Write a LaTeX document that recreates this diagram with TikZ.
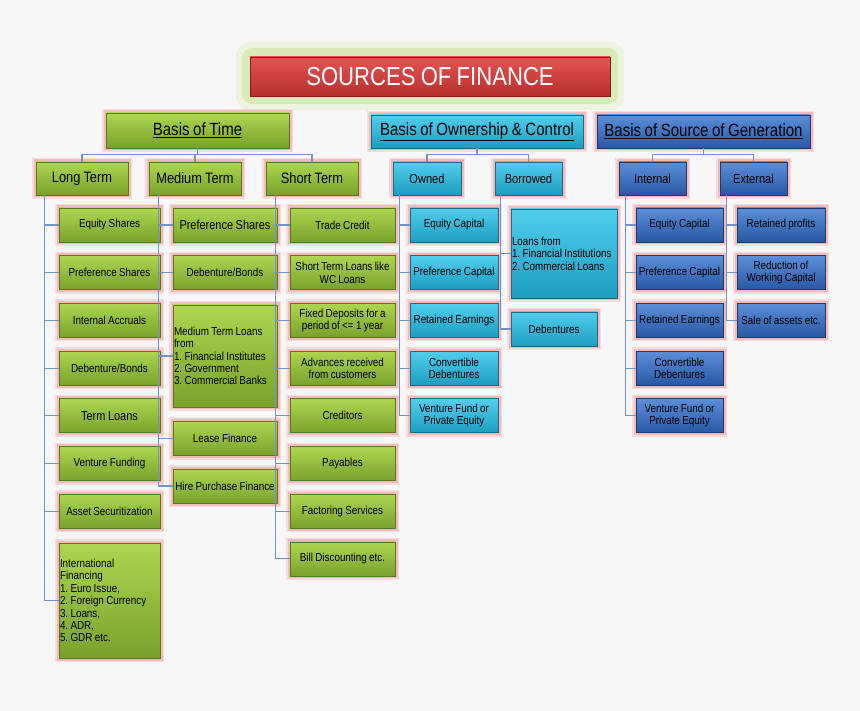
\documentclass[tikz,border=0pt]{standalone}
\usepackage{fontspec}
\setmainfont{Liberation Sans}[FakeStretch=0.85,WordSpace=0.85]

\definecolor{bgcol}{RGB}{247,247,247}
\definecolor{glowpink}{RGB}{245,186,186}
\definecolor{glowgreen}{RGB}{218,233,184}
\definecolor{glowouter}{RGB}{236,243,222}
\definecolor{greentop}{RGB}{174,214,80}
\definecolor{greenbot}{RGB}{120,162,44}
\definecolor{greenline}{RGB}{88,122,30}
\definecolor{cyantop}{RGB}{82,206,236}
\definecolor{cyanbot}{RGB}{28,158,192}
\definecolor{cyanline}{RGB}{24,108,138}
\definecolor{bluetop}{RGB}{92,142,216}
\definecolor{bluebot}{RGB}{40,88,165}
\definecolor{blueline}{RGB}{28,58,112}
\definecolor{redtop}{RGB}{228,84,82}
\definecolor{redbot}{RGB}{184,46,46}
\definecolor{redline}{RGB}{128,30,30}
\definecolor{linkcol}{RGB}{116,146,198}

\begin{document}
\frenchspacing
\hyphenpenalty=10000
\begin{tikzpicture}[x=1pt,y=-1pt,node distance=47.7pt,
    core/.style={rectangle,inner sep=1pt,align=center,line width=0.7pt,
                 minimum height=34pt,font=\fontsize{11.6}{12.4}\selectfont},
    box/.style={core,preaction={draw=glowpink!45!bgcol,line width=8pt},
                preaction={draw=glowpink,line width=5pt}},
    gbox/.style={box,draw=greenline,top color=greentop,bottom color=greenbot},
    cbox/.style={box,draw=cyanline,top color=cyantop,bottom color=cyanbot},
    bbox/.style={box,draw=blueline,top color=bluetop,bottom color=bluebot},
    head/.style={font=\fontsize{17.7}{20}\selectfont},
    sub/.style={font=\fontsize{15.1}{17}\selectfont,minimum height=33pt},
    subs/.style={font=\fontsize{13}{15}\selectfont,minimum height=33pt},
    big/.style={font=\fontsize{12.9}{14}\selectfont},
    list/.style={align=flush left,inner xsep=1pt},
    link/.style={color=linkcol,line width=1.1pt},
    elbow/.style={to path={|- (\tikztotarget)}},
    fork/.style={to path={-- ++(0,6) -| (\tikztotarget)}}]

        \fill[bgcol] (0,0) rectangle (860,711);
        \useasboundingbox (0,0) rectangle (860,711);

        % title
        \fill[glowouter,rounded corners=14pt] (236,42) rectangle (624,110);
        \fill[glowgreen,rounded corners=10pt] (242,48) rectangle (618,104);
        \node[core,draw=redline,top color=redtop,bottom color=redbot,text=white,
              minimum width=360pt,minimum height=39pt,
              font=\fontsize{26}{30}\selectfont] (SRC) at (430,76.5) {SOURCES OF FINANCE};

        % headers
        \node[gbox,head,minimum width=183pt,minimum height=35pt] (TIME) at (197.5,130.5) {\underline{Basis of Time}};
        \node[cbox,head,minimum width=212pt,minimum height=33pt] (OWN)  at (477,131.5)   {\underline{Basis of Ownership \& Control}};
        \node[bbox,head,minimum width=213pt,minimum height=33pt] (GEN)  at (703.5,131.5) {\underline{Basis of Source of Generation}};

        \node[gbox,sub,minimum width=92pt]  (LT) at (82,178.5)    {Long Term};
        \node[gbox,sub,minimum width=92pt]  (MT) at (195,178.5)   {Medium Term};
        \node[gbox,sub,minimum width=92pt]  (ST) at (312,178.5)   {Short Term};
        \node[cbox,subs,minimum width=68pt] (OW) at (427,178.5)   {Owned};
        \node[cbox,subs,minimum width=67pt] (BO) at (528.5,178.5) {Borrowed};
        \node[bbox,subs,minimum width=67pt] (IN) at (652.5,178.5) {Internal};
        \node[bbox,subs,minimum width=67pt] (EX) at (753.5,178.5) {External};

        % long term
        \node[gbox,minimum width=101pt]     (LT1) at (109.5,225) {Equity Shares};
        \node[gbox,minimum width=101pt]     (LT2) [below of=LT1] {Preference Shares};
        \node[gbox,minimum width=101pt]     (LT3) [below of=LT2] {Internal Accruals};
        \node[gbox,minimum width=101pt]     (LT4) [below of=LT3] {Debenture/Bonds};
        \node[gbox,big,minimum width=101pt] (LT5) [below of=LT4] {Term Loans};
        \node[gbox,minimum width=101pt]     (LT6) [below of=LT5] {Venture Funding};
        \node[gbox,minimum width=101pt]     (LT7) [below of=LT6] {Asset Securitization};
        \node[gbox,list,text width=99pt,minimum height=115pt] (LT8) at (109.5,600.5)
              {International\\Financing\\1. Euro Issue,\\2. Foreign Currency\\3. Loans,\\4. ADR,\\5. GDR etc.};

        % medium term
        \node[gbox,big,minimum width=104pt] (MT1) at (225,225)   {Preference Shares};
        \node[gbox,minimum width=104pt]     (MT2) [below of=MT1] {Debenture/Bonds};
        \node[gbox,list,text width=102pt,minimum height=102pt] (MT3) at (225,356)
              {Medium Term Loans\\from\\1. Financial Institutes\\2. Government\\3. Commercial Banks};
        \node[gbox,minimum width=104pt]     (MT4) at (225,438.5) {Lease Finance};
        \node[gbox,minimum width=104pt]     (MT5) at (225,486)   {Hire Purchase Finance};

        % short term
        \node[gbox,minimum width=105pt] (ST1) at (342.5,225) {Trade Credit};
        \node[gbox,minimum width=105pt] (ST2) [below of=ST1] {Short Term Loans like\\WC Loans};
        \node[gbox,minimum width=105pt] (ST3) [below of=ST2] {Fixed Deposits for a\\period of <= 1 year};
        \node[gbox,minimum width=105pt] (ST4) [below of=ST3] {Advances received\\from customers};
        \node[gbox,minimum width=105pt] (ST5) [below of=ST4] {Creditors};
        \node[gbox,minimum width=105pt] (ST6) [below of=ST5] {Payables};
        \node[gbox,minimum width=105pt] (ST7) [below of=ST6] {Factoring Services};
        \node[gbox,minimum width=105pt] (ST8) [below of=ST7] {Bill Discounting etc.};

        % owned / borrowed
        \node[cbox,minimum width=88pt] (OW1) at (454,225)    {Equity Capital};
        \node[cbox,minimum width=88pt] (OW2) [below of=OW1] {Preference Capital};
        \node[cbox,minimum width=88pt] (OW3) [below of=OW2] {Retained Earnings};
        \node[cbox,minimum width=88pt] (OW4) [below of=OW3] {Convertible\\Debentures};
        \node[cbox,minimum width=88pt] (OW5) [below of=OW4] {Venture Fund or\\Private Equity};
        \node[cbox,list,text width=104pt,minimum height=89pt] (BO1) at (564,253.5)
              {Loans from\\1. Financial Institutions\\2. Commercial Loans};
        \node[cbox,minimum width=86pt] (BO2) at (554,329) {Debentures};

        % internal / external
        \node[bbox,minimum width=87pt] (IN1) at (679.5,225) {Equity Capital};
        \node[bbox,minimum width=87pt] (IN2) [below of=IN1] {Preference Capital};
        \node[bbox,minimum width=87pt] (IN3) [below of=IN2] {Retained Earnings};
        \node[bbox,minimum width=87pt] (IN4) [below of=IN3] {Convertible\\Debentures};
        \node[bbox,minimum width=87pt] (IN5) [below of=IN4] {Venture Fund or\\Private Equity};
        \node[bbox,minimum width=88pt] (EX1) at (781,225)   {Retained profits};
        \node[bbox,minimum width=88pt] (EX2) [below of=EX1] {Reduction of\\Working Capital};
        \node[bbox,minimum width=88pt] (EX3) [below of=EX2] {Sale of assets etc.};

        \coordinate (LTs) at ([xshift=9pt]LT.south west);
        \coordinate (MTs) at ([xshift=10pt]MT.south west);
        \coordinate (STs) at ([xshift=10pt]ST.south west);
        \coordinate (OWs) at ([xshift=7pt]OW.south west);
        \coordinate (BOs) at ([xshift=6pt]BO.south west);
        \coordinate (INs) at ([xshift=7pt]IN.south west);
        \coordinate (EXs) at ([xshift=7pt]EX.south west);

        \path[link]
                  (TIME.south) edge[fork] (LT.north) edge[fork] (MT.north) edge[fork] (ST.north)
                  (OWN.south)  edge[fork] (OW.north) edge[fork] (BO.north)
                  (GEN.south)  edge[fork] (IN.north) edge[fork] (EX.north)
                  (LTs) edge[elbow] (LT1.west) edge[elbow] (LT2.west) edge[elbow] (LT3.west)
                        edge[elbow] (LT4.west) edge[elbow] (LT5.west) edge[elbow] (LT6.west)
                        edge[elbow] (LT7.west) edge[elbow] (LT8.west)
                  (MTs) edge[elbow] (MT1.west) edge[elbow] (MT2.west) edge[elbow] (MT3.west)
                        edge[elbow] (MT4.west) edge[elbow] (MT5.west)
                  (STs) edge[elbow] (ST1.west) edge[elbow] (ST2.west) edge[elbow] (ST3.west)
                        edge[elbow] (ST4.west) edge[elbow] (ST5.west) edge[elbow] (ST6.west)
                        edge[elbow] (ST7.west) edge[elbow] (ST8.west)
                  (OWs) edge[elbow] (OW1.west) edge[elbow] (OW2.west) edge[elbow] (OW3.west)
                        edge[elbow] (OW4.west) edge[elbow] (OW5.west)
                  (BOs) edge[elbow] (BO1.west) edge[elbow] (BO2.west)
                  (INs) edge[elbow] (IN1.west) edge[elbow] (IN2.west) edge[elbow] (IN3.west)
                        edge[elbow] (IN4.west) edge[elbow] (IN5.west)
                  (EXs) edge[elbow] (EX1.west) edge[elbow] (EX2.west) edge[elbow] (EX3.west);
      \end{tikzpicture}
\end{document}
